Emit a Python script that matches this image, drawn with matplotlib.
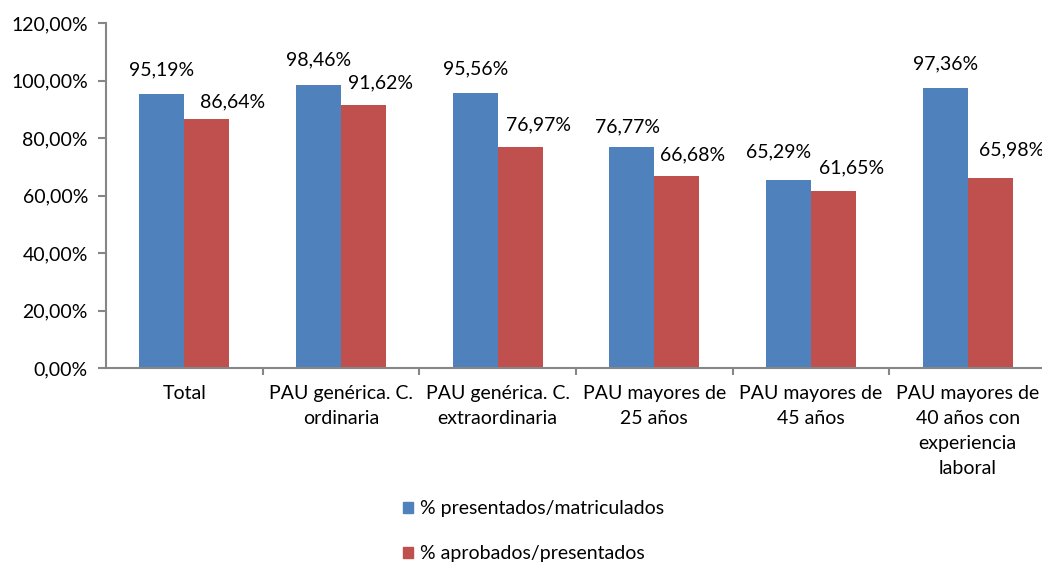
import numpy as np
import matplotlib.pyplot as plt
from matplotlib.patches import Patch

plt.rcParams['font.family'] = ['Lato', 'DejaVu Sans']

categorias = ['Total', 'PAU genérica. C.\nordinaria', 'PAU genérica. C.\nextraordinaria',
              'PAU mayores de\n25 años', 'PAU mayores de\n45 años',
              'PAU mayores de\n40 años con\nexperiencia\nlaboral']
presentados = [95.19, 98.46, 95.56, 76.77, 65.29, 97.36]
aprobados = [86.64, 91.62, 76.97, 66.68, 61.65, 65.98]
series = ['% presentados/matriculados', '% aprobados/presentados']

azul = '#4F81BD'
rojo = '#C0504D'
gris = '#868686'
fs = 14

# desplazamiento de etiquetas (pixeles), como estaban colocadas a mano
off_azul = [(0, 24), (0, 25), (0, 24), (-4, 20), (-10, 28), (0, 24)]
off_rojo = [(26, 17), (17, 22), (18, 22), (16, 21), (18, 23), (21, 28)]

fig = plt.figure(figsize=(10.42, 5.63), dpi=100)
ax = fig.add_axes([106 / 1042, 195 / 563, 940 / 1042, 345 / 563])

x = np.arange(len(categorias))
w = 0.287
b1 = ax.bar(x - 0.1435, presentados, w, color=azul)
b2 = ax.bar(x + 0.1435, aprobados, w, color=rojo)

def fmt(v):
    return f'{v:.2f}'.replace('.', ',') + '%'

for bars, vals, offs in ((b1, presentados, off_azul), (b2, aprobados, off_rojo)):
    for r, v, o in zip(bars, vals, offs):
        ax.annotate(fmt(v), (r.get_x() + r.get_width() / 2, v), xytext=o,
                    textcoords='offset pixels', ha='center', va='center', fontsize=fs)

ax.set_xlim(-0.5, len(categorias) - 0.5)
ax.set_ylim(0, 120)
ax.set_yticks(np.arange(0, 121, 20))
ax.set_yticklabels([f'{t},00%' for t in range(0, 121, 20)], fontsize=fs)
ax.set_xticks(x)
ax.set_xticklabels(categorias, fontsize=fs, linespacing=1.58)
ax.set_xticks(x[:-1] + 0.5, minor=True)
ax.tick_params(axis='x', which='major', length=0, pad=12)
ax.tick_params(axis='x', which='minor', length=5, color=gris, width=1.5)
ax.tick_params(axis='y', length=6, color=gris, width=1.5, pad=7)
for s in ('top', 'right'):
    ax.spines[s].set_visible(False)
for s in ('left', 'bottom'):
    ax.spines[s].set_color(gris)
    ax.spines[s].set_linewidth(1.5)

handles = [Patch(color=azul), Patch(color=rojo)]
fig.legend(handles, series, loc='upper left', bbox_to_anchor=(403 / 1042, 1 - 500 / 563),
           frameon=False, fontsize=fs, handlelength=0.5, handleheight=0.5,
           handletextpad=0.35, labelspacing=1.45, borderpad=0, borderaxespad=0)

plt.savefig('out.png', dpi=100)
